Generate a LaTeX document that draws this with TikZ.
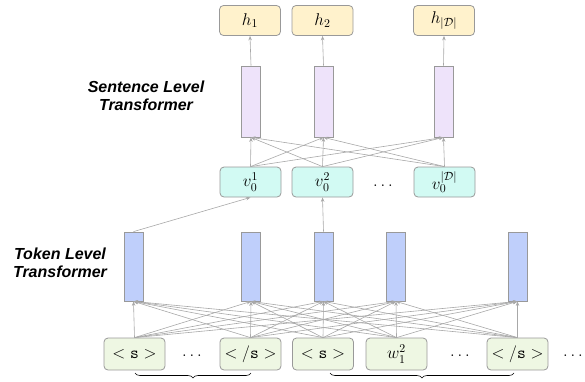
\RequirePackage{fix-cm}
\documentclass[tikz,border=0pt]{standalone}
\usepackage{fontspec}
\setsansfont{Liberation Sans}
\usetikzlibrary{arrows.meta,decorations.pathreplacing}
\definecolor{hfill}{HTML}{FFF2CC}
\definecolor{pfill}{HTML}{EEE3FA}
\definecolor{vfill}{HTML}{D2FAF3}
\definecolor{bfill}{HTML}{BFCFFB}
\definecolor{tfill}{HTML}{EEF7E3}
\definecolor{bord}{HTML}{999999}
\definecolor{conn}{HTML}{A8A8A8}
\tikzset{
  box/.style={draw=bord, line width=0.8pt, rounded corners=4pt, minimum width=61pt, minimum height=30pt, inner sep=0pt, font=\fontsize{17}{19}\selectfont},
  hbox/.style={box, fill=hfill},
  vbox/.style={box, fill=vfill},
  tbox/.style={box, fill=tfill, minimum height=32pt},
  bar/.style={draw=bord, line width=0.8pt, minimum width=19pt, inner sep=0pt},
  pbar/.style={bar, fill=pfill, minimum height=71pt},
  bbar/.style={bar, fill=bfill, minimum height=69pt},
  conn/.style={draw=conn, line width=0.6pt, -{Stealth[length=4.5pt,width=3.5pt]}},
  lab/.style={font=\sffamily\bfseries\itshape\fontsize{16}{17.5}\selectfont, align=center},
  dots/.style={font=\fontsize{17}{19}\selectfont},
  brc/.style={draw=black, line width=0.6pt, decorate, decoration={brace, mirror, amplitude=5pt}}
}
\begin{document}
\begin{tikzpicture}[x=1pt,y=-1pt]
\useasboundingbox (0,0) rectangle (585,381);
% top outputs
\node[hbox] (h1) at (250,20.5) {$h_1$};
\node[hbox] (h2) at (322.5,20.5) {$h_2$};
\node[hbox] (h3) at (444,20.5) {$h_{|\mathcal{D}|}$};
% sentence bars
\node[pbar] (p1) at (251,101.5) {};
\node[pbar] (p2) at (323.5,101.5) {};
\node[pbar] (p3) at (443.5,101.5) {};
% v boxes
\node[vbox] (v1) at (250.5,182) {$v_0^1$};
\node[vbox] (v2) at (322.5,182) {$v_0^2$};
\node[vbox] (v3) at (444.5,182) {$v_0^{|\mathcal{D}|}$};
\node[dots] (vd) at (383,186) {$\ldots$};
% token bars
\node[bbar] (b1) at (133.5,266.5) {};
\node[bbar] (b2) at (251,266.5) {};
\node[bbar] (b3) at (323.5,266.5) {};
\node[bbar] (b4) at (396,266.5) {};
\node[bbar] (b5) at (517.5,266.5) {};
% tokens
\node[tbox] (t1) at (134.5,354) {$<\mathtt{s}>$};
\node[tbox] (t2) at (250.5,354) {$</\mathtt{s}>$};
\node[tbox] (t3) at (323,354) {$<\mathtt{s}>$};
\node[tbox] (t4) at (396.5,354) {$w_1^2$};
\node[tbox] (t5) at (517.5,354) {$</\mathtt{s}>$};
\node[dots] (td1) at (192,356) {$\ldots$};
\node[dots] (td2) at (460,356) {$\ldots$};
\node[dots] (td3) at (573,356) {$\ldots$};
% labels
\node[lab] (slab) at (146,96) {Sentence Level\\Transformer};
\node[lab] (tlab) at (60,263) {Token Level\\Transformer};
% connections token -> bars
\foreach \t in {t1,t2,t3,t4,t5}{
  \foreach \b in {b1,b2,b3,b4,b5}{
    \draw[conn] (\t.north) -- (\b.south);
  }
}
% bars -> v
\draw[conn] (b1.north) -- (v1.south);
\draw[conn] (b3.north) -- (v2.south);
% v -> sentence bars
\foreach \v in {v1,v2,v3}{
  \foreach \p in {p1,p2,p3}{
    \draw[conn] (\v.north) -- (\p.south);
  }
}
% sentence bars -> h
\draw[conn] (p1.north) -- (h1.south);
\draw[conn] (p2.north) -- (h2.south);
\draw[conn] (p3.north) -- (h3.south);
% braces
\coordinate (br1a) at (135,373);
\coordinate (br1b) at (251,373);
\coordinate (br2a) at (330,373);
\coordinate (br2b) at (514,373);
\draw[brc] (br1a) -- (br1b);
\draw[brc] (br2a) -- (br2b);
\end{tikzpicture}
\end{document}
